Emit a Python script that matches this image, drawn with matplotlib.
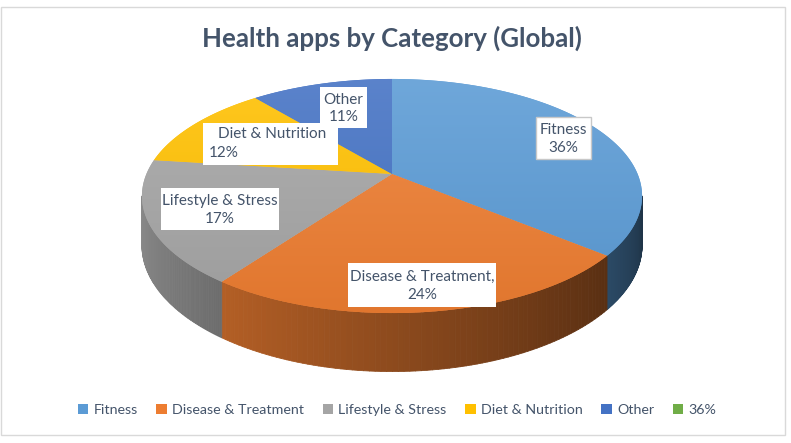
import numpy as np
import matplotlib
matplotlib.use('Agg')  # noqa
import matplotlib.pyplot as plt
from matplotlib.patches import Polygon, Rectangle, Patch
from matplotlib.collections import PolyCollection
from matplotlib.colors import to_rgb

# data
categories = ['Fitness', 'Disease & Treatment', 'Lifestyle & Stress',
              'Diet & Nutrition', 'Other', '36%']
shares = [36, 24, 17, 12, 11, 0]
label_text = ['Fitness\n36%', 'Disease & Treatment,\n24%',
              'Lifestyle & Stress\n17%', None, 'Other\n11%', None]
colors = ['#5b9bd5', '#ed7d31', '#a5a5a5', '#ffc000', '#4472c4', '#70ad47']

TXT = '#44546a'
FONT = 'Lato'

# pie geometry in pixel space (perspective disk)
X0, Y0 = 392, 174
A, B, K = 245.6, 112.9, 0.188
H = 47.5


def proj(t, drop=0.0):
    x = np.cos(t)
    y = np.sin(t)
    w = 1 + K * y
    return X0 + A * x / w, Y0 - B * y / w + drop / w


def mix(c, f, white=0.0):
    c = np.array(to_rgb(c))
    c = np.clip(c * f, 0, 1)
    return tuple(c + (1 - c) * white)


fig = plt.figure(figsize=(7.91, 4.43), dpi=100)
ax = fig.add_axes([0, 0, 1, 1])
ax.set_xlim(0, 791)
ax.set_ylim(443, 0)
ax.axis('off')

total = float(sum(shares))
start = 90.0
bounds = []
for s in shares:
    end = start - 360.0 * s / total
    bounds.append((start, end))
    start = end

# side of the cylinder (front half only)
vis_lo = np.degrees(-np.pi + np.arcsin(K))
vis_hi = np.degrees(-np.arcsin(K))
for (a0, a1), col, s in zip(bounds, colors, shares):
    if s == 0:
        continue
    lo, hi = max(min(a0, a1), vis_lo), min(max(a0, a1), vis_hi)
    if hi <= lo:
        continue
    ts = np.radians(np.linspace(lo, hi, 80))
    quads, fcs = [], []
    for i in range(len(ts) - 1):
        t0, t1 = ts[i], ts[i + 1]
        xa, ya = proj(t0)
        xb, yb = proj(t1)
        xc, yc = proj(t1, H)
        xd, yd = proj(t0, H)
        quads.append([(xa, ya), (xb, yb), (xc, yc), (xd, yd)])
        tm = 0.5 * (t0 + t1)
        frac = i / (len(ts) - 2)
        fcs.append(mix(col, 0.638 - 0.206 * np.cos(tm) - 0.1 * frac))
    ax.add_collection(PolyCollection(quads, facecolors=fcs, edgecolors=fcs,
                                     linewidths=0.6, zorder=2))

# top faces with a soft vertical gradient
ytop, ybot = Y0 - B / (1 + K), Y0 + B / (1 - K)
for (a0, a1), col, s in zip(bounds, colors, shares):
    if s == 0:
        continue
    ts = np.radians(np.linspace(a0, a1, 200))
    px, py = proj(ts)
    pts = [(X0, Y0)] + list(zip(px, py))
    poly = Polygon(pts, closed=True, facecolor=col, edgecolor='none', zorder=3)
    ax.add_patch(poly)
    c_top = np.array(mix(col, 1.0, 0.12))
    c_bot = np.array(mix(col, 0.95))
    g = np.linspace(0, 1, 64)[:, None]
    img = (c_top * (1 - g) + c_bot * g)[:, None, :]
    im = ax.imshow(img, extent=(X0 - A * 1.05, X0 + A * 1.05, ybot, ytop),
                   origin='upper', aspect='auto', interpolation='bilinear',
                   zorder=4)
    im.set_clip_path(poly)

# data label boxes (x0, y0, x1, y1)
label_box = {0: (536, 117, 591, 159), 1: (348, 263, 496, 307),
             2: (161, 188, 279, 230), 4: (320, 87, 367, 128)}
for i, txt in enumerate(label_text):
    if txt is None:
        continue
    x0, y0, x1, y1 = label_box[i]
    ec = '#c8c8c8' if i == 0 else 'none'
    ax.add_patch(Rectangle((x0, y0), x1 - x0, y1 - y0, facecolor='white',
                           edgecolor=ec, linewidth=1, zorder=5))
    ax.text((x0 + x1) / 2, (y0 + y1) / 2 + 1, txt, ha='center', va='center',
            fontsize=11, color=TXT, family=FONT, linespacing=1.3, zorder=6)

# Diet & Nutrition label box (text split like the original)
ax.add_patch(Rectangle((203, 123), 135, 42, facecolor='white',
                       edgecolor='none', zorder=5))
ax.text(272, 134, 'Diet & Nutrition', ha='center', va='center', fontsize=11,
        color=TXT, family=FONT, zorder=6)
ax.text(209, 153, '12%', ha='left', va='center', fontsize=11,
        color=TXT, family=FONT, zorder=6)

ax.text(392, 38, 'Health apps by Category (Global)', ha='center', va='center',
        fontsize=18.6, fontweight='bold', color=TXT, family=FONT)

handles = [Patch(facecolor=c, edgecolor='none') for c in colors]
leg = ax.legend(handles, categories, loc='center', ncol=6, frameon=False,
                bbox_to_anchor=(397 / 791, 1 - 410 / 443),
                handlelength=0.75, handleheight=0.75, handletextpad=0.35,
                columnspacing=1.3, prop={'family': FONT, 'size': 10.3})
for t in leg.get_texts():
    t.set_color(TXT)

ax.add_patch(Rectangle((1, 7), 784, 428, facecolor='none',
                       edgecolor='#d9d9d9', linewidth=1, zorder=1))

fig.savefig('out.png', dpi=100)
